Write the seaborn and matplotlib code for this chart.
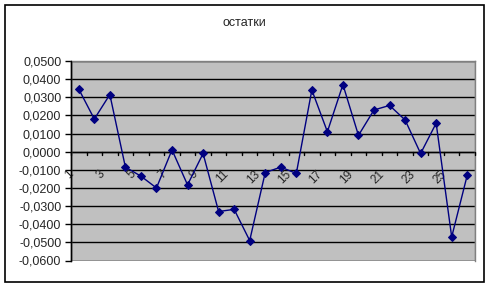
import matplotlib
matplotlib.use("Agg")
import matplotlib.pyplot as plt
import seaborn as sns
import numpy as np
import pandas as pd
from matplotlib.ticker import FuncFormatter, FixedLocator
from matplotlib.patches import Rectangle

categories = list(range(1, 27))
residuals = [0.0345, 0.0180, 0.0315, -0.0085, -0.0135, -0.0200, 0.0010, -0.0183,
             -0.0010, -0.0330, -0.0318, -0.0490, -0.0115, -0.0085, -0.0120, 0.0340,
             0.0110, 0.0370, 0.0090, 0.0230, 0.0255, 0.0175, -0.0010, 0.0157,
             -0.0470, -0.0130]
title = "остатки"
y_ticks = [0.05, 0.04, 0.03, 0.02, 0.01, 0.0, -0.01, -0.02, -0.03, -0.04, -0.05, -0.06]
x_labels = [str(c) for c in categories if c % 2 == 1]

sns.set_style("white")
plt.rcParams['font.family'] = ['Liberation Sans', 'DejaVu Sans']

W, H = 491, 287
fig = plt.figure(figsize=(W / 100, H / 100), dpi=100)
fig.patch.set_facecolor("white")
fig.patches.append(Rectangle((5 / W, 1 - 282 / H), 479 / W, 277 / H, transform=fig.transFigure,
                             fill=False, edgecolor="black", linewidth=1.2))

ax = fig.add_axes([71 / W, 1 - 260.5 / H, 404 / W, 199.5 / H])
ax.set_facecolor("#C0C0C0")

df = pd.DataFrame({"pos": np.arange(len(categories)), "val": residuals})
sns.lineplot(data=df, x="pos", y="val", ax=ax, color="#000080", linewidth=1,
             marker="D", markersize=4.5, markeredgecolor="#000080", zorder=5)

ax.set_xlim(-0.5, len(categories) - 0.5)
ax.set_ylim(-0.06, 0.05)
ax.yaxis.set_major_locator(FixedLocator(y_ticks))
ax.yaxis.set_major_formatter(FuncFormatter(lambda v, p: f"{v:.4f}".replace(".", ",")))
ax.grid(axis="y", color="black", linewidth=1)
ax.set_axisbelow(True)

for s in ["top", "right", "bottom"]:
    ax.spines[s].set_color("#808080")
    ax.spines[s].set_linewidth(1)
ax.spines["left"].set_color("black")
ax.spines["left"].set_linewidth(1)
ax.spines["bottom"].set_visible(False)

# category axis crossing at zero
ax.axhline(0, color="black", linewidth=1, zorder=3)
ax.add_patch(Rectangle((0, 0), 1, 1, transform=ax.transAxes, fill=False,
                       edgecolor="#808080", linewidth=1, zorder=6))
ax.plot([0, 0], [0, 1], transform=ax.transAxes, color="black", linewidth=1, zorder=7, clip_on=False)

# boundary ticks on the zero line
for b in np.arange(-0.5, len(categories)):
    ax.plot([b, b], [0, -0.0018], color="black", linewidth=1, zorder=4, clip_on=False)

ax.set_xticks([])
for i, c in enumerate(categories):
    if c % 2 == 1:
        ax.text(i - 0.45, -0.0115, str(c), rotation=45, ha="right", va="center",
                rotation_mode="anchor", fontsize=8.5, zorder=4)

ax.tick_params(axis="y", direction="out", length=4, width=1, color="black", pad=3,
               labelsize=9, left=True)
ax.set_xlabel("")
ax.set_ylabel("")

fig.text(244 / W, 1 - 23 / H, title, ha="center", va="center", fontsize=9)

fig.savefig("out.png", dpi=100)
